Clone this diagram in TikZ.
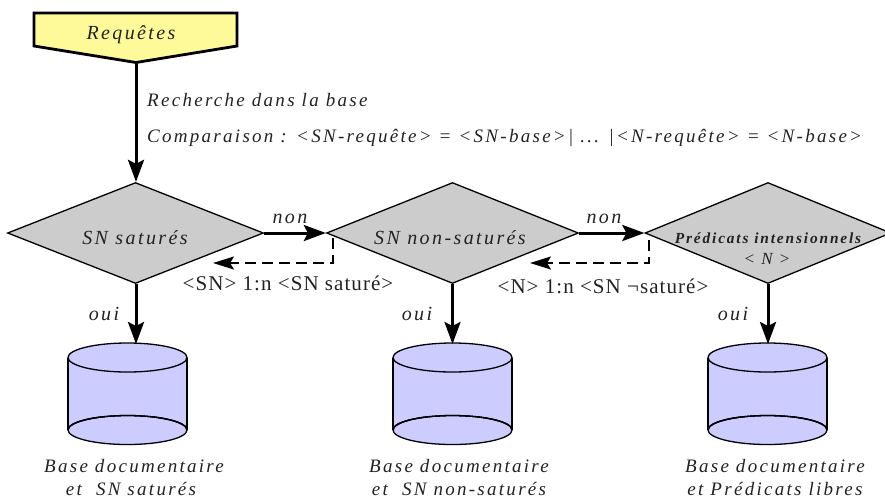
\documentclass[tikz,border=0pt]{standalone}
\usepackage{fontspec}
\setmainfont{Liberation Serif}
\newfontfamily\spit[LetterSpace=12,ItalicFont={Liberation Serif Italic},BoldItalicFont={Liberation Serif Bold Italic}]{Liberation Serif}
\newfontfamily\spup[LetterSpace=5]{Liberation Serif}
\usetikzlibrary{shapes.geometric,arrows.meta}
\definecolor{txt}{HTML}{222222}
\tikzset{
  dia/.style={diamond,draw=black,line width=1.3pt,fill=black!20,minimum width=#1,minimum height=101pt,inner sep=0pt,shape aspect=2.5},
  flow/.style={line width=3pt,-{Stealth[length=22pt,width=16pt,inset=4pt]}},
  back/.style={line width=2pt,dash pattern=on 11pt off 6pt,-{Stealth[length=21pt,width=13pt,inset=4pt]}},
  it/.style={font=\fontsize{19}{19}\spit\itshape,text=txt,inner sep=0pt},
  itb/.style={font=\fontsize{20}{20}\spit\itshape,text=txt,inner sep=0pt},
  up/.style={font=\fontsize{21}{21}\spup,text=txt,inner sep=0pt},
  cyl/.style={draw=black,line width=1.3pt,fill=blue!20}
}
\newcommand{\basecyl}[2]{%
  \fill[blue!20] (#1-59.5,#2) rectangle (#1+59.5,#2+72.5);
  \draw[cyl] (#1,#2+72.5) ellipse [x radius=59.5,y radius=14.5];
  \fill[blue!20] (#1-59.5,#2) rectangle (#1+59.5,#2+58);
  \draw[line width=1.3pt] (#1-59.5,#2) -- (#1-59.5,#2+72.5) (#1+59.5,#2) -- (#1+59.5,#2+72.5);
  \draw[black,line width=1.3pt] (#1,#2+72.5) ++(-59.5,0) arc[start angle=180,end angle=0,x radius=59.5,y radius=-14.5];
  \draw[black,line width=1.3pt] (#1,#2+72.5) ++(-59.5,0) arc[start angle=180,end angle=360,x radius=59.5,y radius=14.5];
  \draw[cyl] (#1,#2) ellipse [x radius=59.5,y radius=14.5];
}
\begin{document}
\begin{tikzpicture}[x=1pt,y=-1pt]
\useasboundingbox (0,0) rectangle (885,499);
% request
\draw[line width=2.8pt,fill=yellow!40!white,line join=miter] (34,13) -- (237,13) -- (237,46) -- (136,62.5) -- (34,46) -- cycle;
\node[itb] (req) at (131,35) {Requêtes};
\coordinate (reqtip) at (136,62.5);
% decisions
\node[dia=256pt] (d1) at (135.5,233) {};
\node[dia=252pt] (d2) at (452.5,233) {};
\node[dia=246pt] (d3) at (768,233) {};
\node[itb] (t1) at (135,238) {SN saturés};
\node[itb] (t2) at (450,238) {SN non-saturés};
\node[font=\fontsize{15.4}{15.4}\spit\bfseries\itshape,text=txt,inner sep=0pt] (t3) at (768,238) {Prédicats intensionnels};
\node[font=\fontsize{17}{17}\spit\itshape,text=txt,inner sep=0pt] (t3b) at (767,259) {< N >};
% query labels
\node[it,anchor=base west] (q1) at (147,106) {Recherche dans la base};
\node[it,anchor=base west] (q2) at (147,142) {Comparaison : <SN-requête> = <SN-base>| ... |<N-requête> = <N-base>};
% cylinders
\basecyl{127.5}{357.5}
\basecyl{452.5}{357.5}
\basecyl{767.5}{357.5}
\coordinate (c1) at (136,344);
\coordinate (c2) at (452.5,344);
\coordinate (c3) at (768,344);
% flow
\draw[flow] (reqtip) -- (d1.north -| reqtip);
\draw[flow] (d1.east) -- (d2.west);
\draw[flow] (d2.east) -- (d3.west);
\draw[flow] (d1.south -| c1) -- (c1);
\draw[flow] (d2.south) -- (c2);
\draw[flow] (d3.south) -- (c3);
% feedback
\coordinate (f1a) at (333,238); \coordinate (f1b) at (333,263); \coordinate (f1c) at (213,263);
\coordinate (f2a) at (649,240); \coordinate (f2b) at (649,263); \coordinate (f2c) at (530,263);
\draw[back] (f1a) -- (f1b) -- (f1c);
\draw[back] (f2a) -- (f2b) -- (f2c);
% labels
\node[itb] (n1) at (290,219) {non};
\node[itb] (n2) at (604,219) {non};
\node[itb] (o1) at (104,314) {oui};
\node[itb] (o2) at (417,314) {oui};
\node[itb] (o3) at (733,314) {oui};
\node[up] (r1) at (288,283) {<SN> 1:n <SN saturé>};
\node[up] (r2) at (603,286) {<N> 1:n <SN ¬saturé>};
\node[it] (b1) at (134,466) {Base documentaire};
\node[it] (b1b) at (131,489) {et\ \ SN saturés};
\node[it] (b2) at (459,466) {Base documentaire};
\node[it] (b2b) at (459,489) {et\ \ SN non-saturés};
\node[it] (b3) at (775,466) {Base documentaire};
\node[it] (b3b) at (775,489) {et Prédicats libres};
\end{tikzpicture}
\end{document}
